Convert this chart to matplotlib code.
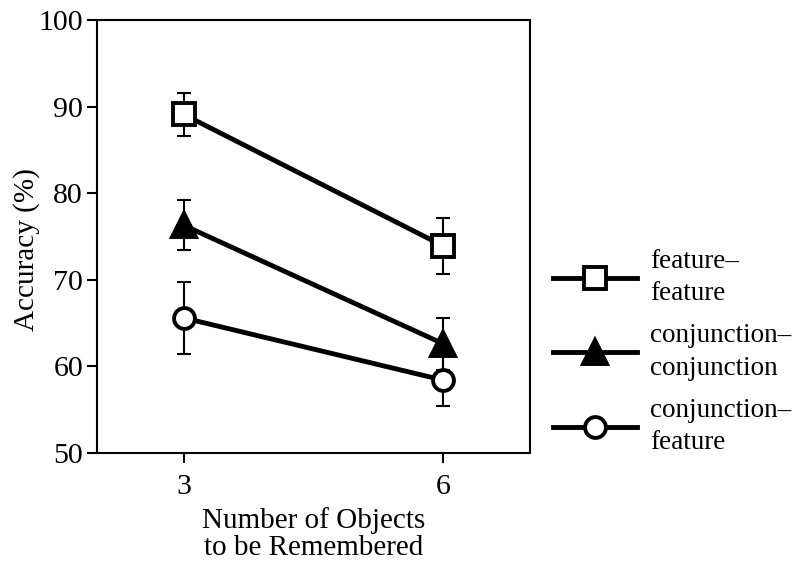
import numpy as np
import matplotlib.pyplot as plt

plt.rcParams['font.family'] = ['Liberation Serif', 'DejaVu Serif']
plt.rcParams['font.size'] = 21.5

# set sizes shown on the x axis
set_sizes = [3, 6]

# mean accuracy (%) and error bar limits for each condition
ff_mean = [89.1, 73.9]
ff_err = [2.5, 3.2]
cc_mean = [76.3, 62.6]
cc_err = [2.9, 3.0]
cf_mean = [65.6, 58.4]
cf_err = [4.2, 3.0]

labels = ['feature\u2013\nfeature', 'conjunction\u2013\nconjunction', 'conjunction\u2013\nfeature']
markers = ['s', '^', 'o']
faces = ['white', 'black', 'white']
sizes = [16, 17, 15]

fig = plt.figure(figsize=(8.06, 5.62), dpi=100)
ax = fig.add_axes([0.1203, 0.194, 0.5373, 0.7704])

handles = []
for mean, err, lab, m, fc, ms in zip([ff_mean, cc_mean, cf_mean], [ff_err, cc_err, cf_err],
                                     labels, markers, faces, sizes):
    ax.errorbar(set_sizes, mean, yerr=err, fmt='none', ecolor='black', elinewidth=1.5,
                capsize=5, capthick=1.5, zorder=2)
    line, = ax.plot(set_sizes, mean, color='black', lw=3.5, marker=m, markersize=ms,
                    markerfacecolor=fc, markeredgecolor='black', markeredgewidth=2.8,
                    label=lab, zorder=3)
    handles.append(line)

ax.set_xlim(2, 7)
ax.set_ylim(50, 100)
ax.set_xticks(set_sizes)
ax.set_yticks(np.arange(50, 101, 10))
ax.tick_params(direction='out', length=7, width=1.5)
ax.tick_params(axis='x', pad=8)
ax.tick_params(axis='y', pad=3)
for sp in ax.spines.values():
    sp.set_linewidth(1.5)

ax.set_xlabel('Number of Objects\nto be Remembered', fontsize=21, linespacing=1.07, labelpad=5)
ax.set_ylabel('Accuracy (%)', fontsize=21)
ax.yaxis.set_label_coords(-0.132, 0.47)

leg = ax.legend(handles=handles, loc='center left', bbox_to_anchor=(1.053, 0.233),
                frameon=False, fontsize=19.5, handlelength=3.1, handletextpad=0.5,
                labelspacing=0.62, borderaxespad=0, borderpad=0)
for t in leg.get_texts():
    t.set_linespacing(1.4)

fig.savefig('out.png', dpi=100)
